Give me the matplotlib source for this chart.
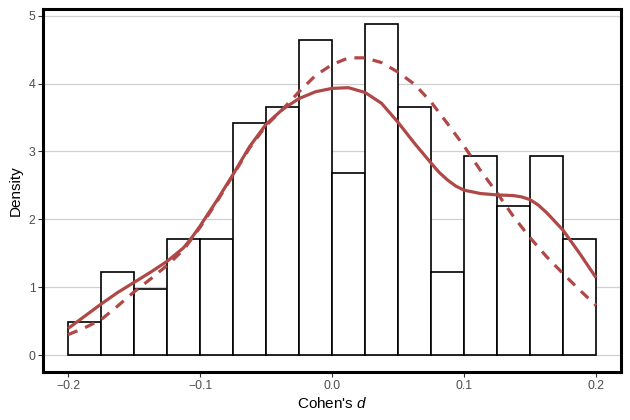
import numpy as np
import matplotlib
matplotlib.use("Agg")
import matplotlib.pyplot as plt

plt.rcParams['font.family'] = ['Liberation Sans', 'DejaVu Sans']
plt.rcParams['mathtext.fontset'] = 'custom'
plt.rcParams['mathtext.it'] = 'Liberation Sans:italic'
plt.rcParams['mathtext.rm'] = 'Liberation Sans'

# Histogram (density) with bin width 0.025
bin_edges = [-0.2, -0.175, -0.15, -0.125, -0.1, -0.075, -0.05, -0.025, 0.0,
             0.025, 0.05, 0.075, 0.1, 0.125, 0.15, 0.175, 0.2]
densities = [0.49, 1.22, 0.98, 1.71, 1.71, 3.42, 3.66, 4.64,
             2.68, 4.88, 3.66, 1.22, 2.93, 2.20, 2.93, 1.71]

# Curves
solid_x = [-0.2, -0.1875, -0.175, -0.1625, -0.15, -0.1375, -0.125, -0.1125,
           -0.10625, -0.1, -0.0875, -0.075, -0.0625, -0.05, -0.0375, -0.025,
           -0.0125, 0.0, 0.0125, 0.025, 0.0375, 0.05, 0.0625, 0.075, 0.08125,
           0.0875, 0.09375, 0.1, 0.1125, 0.125, 0.1375, 0.14375, 0.15, 0.15625,
           0.1625, 0.175, 0.1875, 0.2]
kde_solid = [0.39, 0.57, 0.75, 0.92, 1.07, 1.22, 1.38, 1.58,
             1.73, 1.90, 2.27, 2.66, 3.07, 3.40, 3.62, 3.78,
             3.88, 3.93, 3.94, 3.87, 3.71, 3.43, 3.12, 2.83, 2.69,
             2.58, 2.49, 2.43, 2.38, 2.36, 2.35, 2.33, 2.29, 2.21,
             2.10, 1.84, 1.50, 1.14]
dashed_x = [-0.2, -0.1875, -0.175, -0.1625, -0.15, -0.1375, -0.125, -0.1125,
            -0.1, -0.0875, -0.075, -0.0625, -0.05, -0.0375, -0.025, -0.0125,
            0.0, 0.0125, 0.025, 0.0375, 0.05, 0.0625, 0.075, 0.0875,
            0.1, 0.1125, 0.125, 0.1375, 0.15, 0.1625, 0.175, 0.1875, 0.2]
kde_dashed = [0.30, 0.40, 0.52, 0.72, 0.93, 1.12, 1.32, 1.55,
              1.88, 2.25, 2.65, 3.05, 3.38, 3.62, 3.88, 4.12,
              4.28, 4.38, 4.38, 4.31, 4.17, 3.99, 3.73, 3.41,
              3.08, 2.72, 2.39, 2.04, 1.73, 1.45, 1.20, 0.96, 0.73]

x_ticks = [-0.2, -0.1, 0.0, 0.1, 0.2]
x_tick_labels = ['\u22120.2', '\u22120.1', '0.0', '0.1', '0.2']
y_ticks = [0, 1, 2, 3, 4, 5]

red = '#B04848'

fig = plt.figure(figsize=(6.3, 4.2), dpi=100)
ax = fig.add_axes([0.0683, 0.1143, 0.9174, 0.8643])

edges = np.array(bin_edges)
ax.bar(edges[:-1], densities, width=np.diff(edges), align='edge',
       facecolor='white', edgecolor='black', linewidth=1.2, zorder=2)
ax.plot(solid_x, kde_solid, color=red, linewidth=2.3, zorder=3,
        solid_capstyle='butt', solid_joinstyle='round')
ax.plot(dashed_x, kde_dashed, color=red, linewidth=2.3, zorder=3,
        linestyle=(0, (3.2, 2.6)), dash_capstyle='butt')

ax.set_xlim(-0.2189, 0.2189)
ax.set_ylim(-0.25, 5.10)
ax.set_xticks(x_ticks)
ax.set_xticklabels(x_tick_labels)
ax.set_yticks(y_ticks)

ax.yaxis.grid(True, color='#D0D0D0', linewidth=0.9, zorder=0)
ax.xaxis.grid(False)
ax.set_axisbelow(True)

for s in ax.spines.values():
    s.set_linewidth(2.2)
    s.set_color('black')

ax.tick_params(axis='both', colors='#333333', labelcolor='#4D4D4D',
               labelsize=8.8, length=3.5, width=0.8, pad=2)

ax.set_xlabel("Cohen's $\\it{d}$", fontsize=11, color='black', labelpad=3)
ax.set_ylabel('Density', fontsize=11, color='black', labelpad=4)

fig.savefig('out.png', dpi=100)
